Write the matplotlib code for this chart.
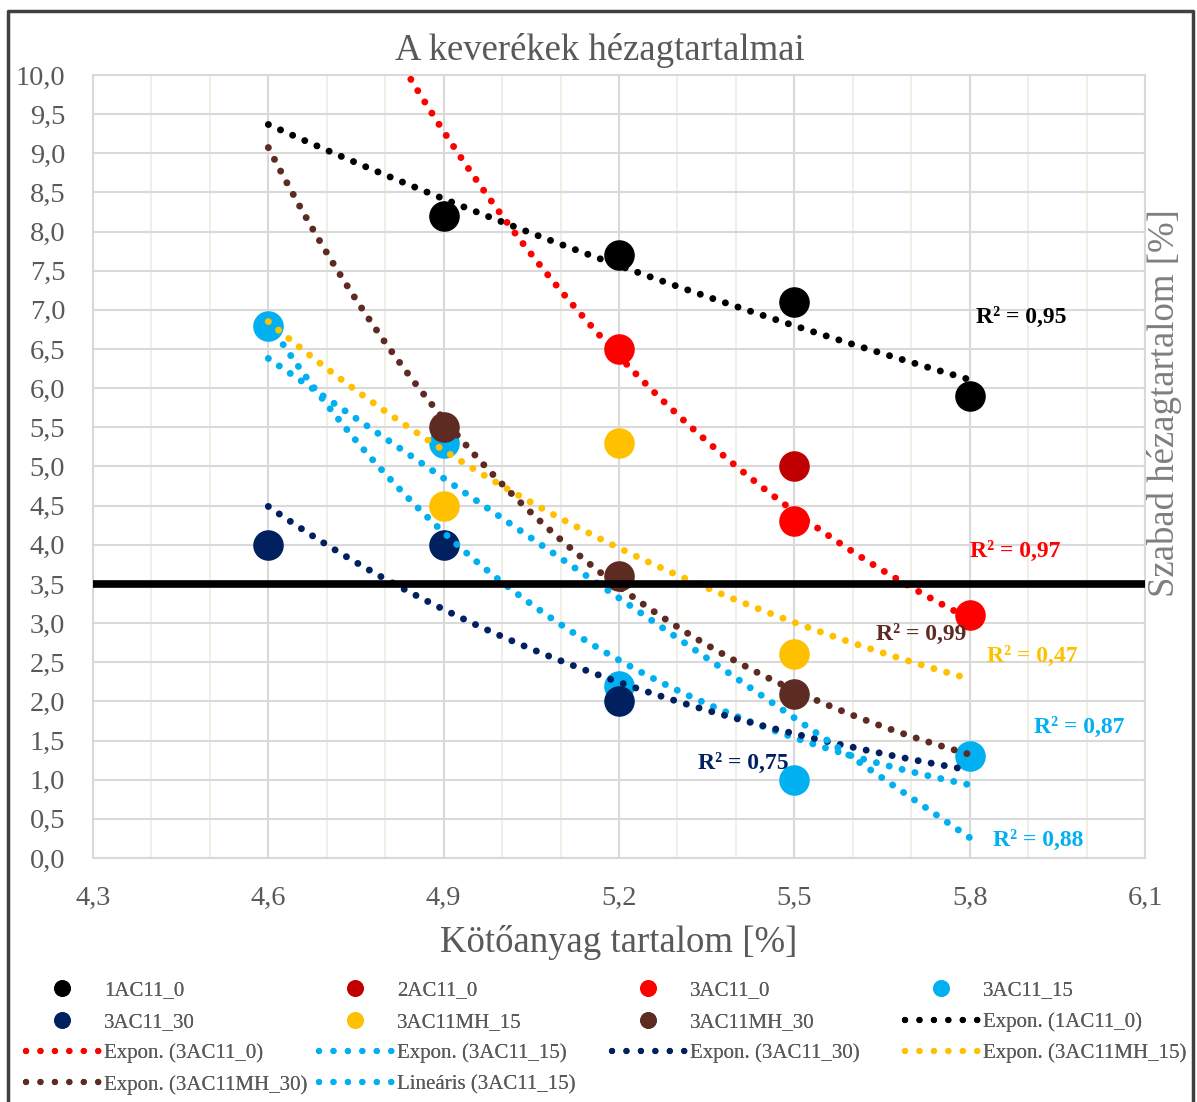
import numpy as np
import matplotlib
matplotlib.use('Agg')
import matplotlib.pyplot as plt
from matplotlib.ticker import FuncFormatter, MultipleLocator, FixedLocator
from matplotlib.lines import Line2D

plt.rcParams['font.family'] = ['Liberation Serif', 'DejaVu Serif']

# Kötőanyag tartalom [%]
x_vals = [4.6, 4.9, 5.2, 5.5, 5.8]
x_ticks = [4.3, 4.6, 4.9, 5.2, 5.5, 5.8, 6.1]
nan = np.nan

# Szabad hézagtartalom [%] sorozatonként
s_1AC11_0 = [nan, 8.2, 7.7, 7.1, 5.9]
s_2AC11_0 = [nan, nan, nan, 5.0, nan]
s_3AC11_0 = [nan, nan, 6.5, 4.3, 3.1]
s_3AC11_15 = [6.8, 5.3, 2.2, 1.0, 1.3]
s_3AC11_30 = [4.0, 4.0, 2.0, nan, nan]
s_3AC11MH_15 = [nan, 4.5, 5.3, 2.6, nan]
s_3AC11MH_30 = [nan, 5.5, 3.6, 2.1, nan]

series_names = ['1AC11_0', '2AC11_0', '3AC11_0', '3AC11_15',
                '3AC11_30', '3AC11MH_15', '3AC11MH_30']
series_vals = [s_1AC11_0, s_2AC11_0, s_3AC11_0, s_3AC11_15,
               s_3AC11_30, s_3AC11MH_15, s_3AC11MH_30]
colors = ['#000000', '#C00000', '#FF0000', '#00B0F0',
          '#002060', '#FFC000', '#5E2B23']

# trendvonalak: (sorozat, típus)
trends = [('1AC11_0', 'exp'), ('3AC11_0', 'exp'), ('3AC11_15', 'exp'),
          ('3AC11_30', 'exp'), ('3AC11MH_15', 'exp'), ('3AC11MH_30', 'exp'),
          ('3AC11_15', 'lin')]

# R² feliratok
r2_labels = ['R² = 0,95', 'R² = 0,97', 'R² = 0,99', 'R² = 0,47',
             'R² = 0,87', 'R² = 0,75', 'R² = 0,88']
r2_colors = ['#000000', '#FF0000', '#5E2B23', '#FFC000',
             '#00B0F0', '#002060', '#00B0F0']
r2_x = [5.81, 5.80, 5.64, 5.83, 5.91, 5.335, 5.84]
r2_y = [6.9, 3.92, 2.85, 2.57, 1.67, 1.21, 0.22]

limit = 3.5

W, H = 1197, 1102
fig = plt.figure(figsize=(W / 100, H / 100), dpi=100)
ax = fig.add_axes([93 / W, 1 - 858 / H, (1145 - 93) / W, (858 - 75) / H])

gray = '#595959'
ax.set_xlim(4.3, 6.1)
ax.set_ylim(0, 10)
ax.xaxis.set_major_locator(FixedLocator(x_ticks))
ax.xaxis.set_minor_locator(MultipleLocator(0.1))
ax.yaxis.set_major_locator(MultipleLocator(0.5))
comma = FuncFormatter(lambda v, p: f'{v:.1f}'.replace('.', ','))
ax.xaxis.set_major_formatter(comma)
ax.yaxis.set_major_formatter(comma)
ax.tick_params(which='both', length=0, labelsize=20.5, labelcolor=gray)
ax.tick_params(axis='y', pad=20)
ax.tick_params(axis='x', pad=20)
ax.grid(which='minor', axis='x', color='#EEECE1', lw=1.2, zorder=0)
ax.grid(which='major', axis='both', color='#D9D9D9', lw=1.5, zorder=0)
ax.set_axisbelow(True)
for sp in ax.spines.values():
    sp.set_color('#D9D9D9')
    sp.set_linewidth(1.5)

xs = np.array(x_vals)
handles = {}
for name, vals, c in zip(series_names, series_vals, colors):
    ax.plot(xs, vals, 'o', ms=21, color=c, zorder=3, label=name)
    handles[name] = Line2D([], [], marker='o', ls='none', ms=11, color=c)

xt = np.linspace(4.6, 5.8, 200)
trend_handles = []
for name, kind in trends:
    idx = series_names.index(name)
    y = np.array(series_vals[idx])
    m = ~np.isnan(y)
    if kind == 'exp':
        b, a = np.polyfit(xs[m], np.log(y[m]), 1)
        yt = np.exp(a + b * xt)
        lab = f'Expon. ({name})'
    else:
        b, a = np.polyfit(xs[m], y[m], 1)
        yt = a + b * xt
        lab = f'Lineáris ({name})'
    ax.plot(xt, yt, ls=(0, (0.01, 1.9)), lw=5, color=colors[idx],
            dash_capstyle='round', zorder=4)
    trend_handles.append((lab, Line2D([], [], ls=(0, (0.01, 2.3)), lw=4.5,
                                      color=colors[idx],
                                      dash_capstyle='round')))

ax.axhline(limit, color='black', lw=5.5, zorder=5)

for t, c, x, y in zip(r2_labels, r2_colors, r2_x, r2_y):
    ax.text(x, y, t, color=c, fontsize=17, fontweight='bold',
            ha='left', va='center', zorder=6)

fig.text(600 / W, 1 - 50 / H, 'A keverékek hézagtartalmai', fontsize=26.5,
         color=gray, ha='center', va='center')
fig.text(619 / W, 1 - 943 / H, 'Kötőanyag tartalom [%]', fontsize=26.5,
         color=gray, ha='center', va='center')
fig.text(1165 / W, 1 - 403 / H, 'Szabad hézagtartalom [%]', fontsize=26.5,
         color='#7F7F7F', ha='center', va='center', rotation=90)

# jelmagyarázat: 4 oszlop, soronként kitöltve
entries = [(n, handles[n]) for n in series_names] + trend_handles
cols = [entries[i::4] for i in range(4)]
for i, col in enumerate(cols):
    leg = fig.legend([h for _, h in col], [l for l, _ in col],
                     loc='upper left',
                     bbox_to_anchor=((26 + i * 293) / W, 1 - 981 / H),
                     frameon=False, fontsize=15, handlelength=3.5,
                     handletextpad=0.25, labelspacing=0.56, borderpad=0,
                     borderaxespad=0, labelcolor=gray)
    fig.add_artist(leg)

# keret
fig.add_artist(Line2D([8 / W, 8 / W, 1193 / W, 1193 / W],
                      [0, 1 - 11 / H, 1 - 11 / H, 0],
                      transform=fig.transFigure, color='#404040', lw=2.5))

fig.savefig('out.png', dpi=100)
